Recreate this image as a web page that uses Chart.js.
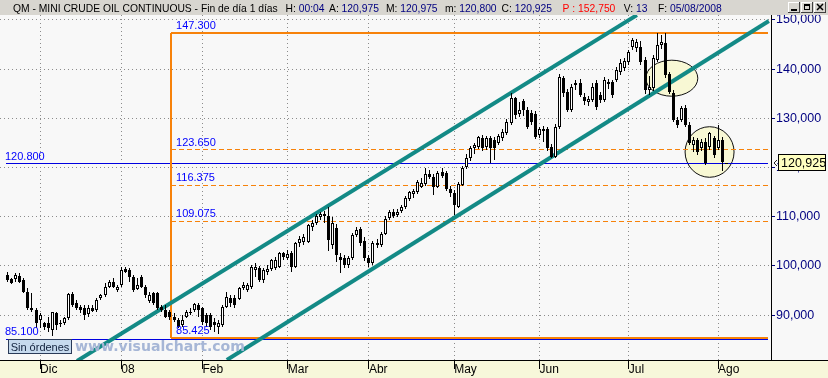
<!DOCTYPE html>
<html><head><meta charset="utf-8">
<script src="https://cdn.jsdelivr.net/npm/chart.js@4.4.1/dist/chart.umd.min.js"></script>
<style>html,body{margin:0;padding:0;background:#f8f8f8;overflow:hidden}canvas{display:block}</style>
</head><body>
<canvas id="c" width="828" height="378" style="width:828px;height:378px"></canvas>
<script>
// ---------- DATA ----------
const monthLabels = ['Dic','08','Feb','Mar','Abr','May','Jun','Jul','Ago'];
const monthStarts = [8,28,48,69,89,110,131,153,175];
const yTickValues = [90000,100000,110000,120000,130000,140000,150000];

const opens = [
98170,97360,97360,98030,97150,94780,91460,91060,89030,88420,
88420,86990,90440,88200,88420,89430,94310,92480,91660,91460,
90240,91460,91060,93500,94170,95800,96750,95120,96140,99390,
99190,97830,95330,97830,95800,92880,94450,94450,91740,91060,
90710,89700,89020,88010,89700,90380,91060,92070,91400,90040,
90040,88680,87670,88010,91740,93570,93430,93300,95470,95120,
95800,99190,99530,97150,98840,99330,99500,99860,102580,101630,
102580,99860,104610,104950,104950,107860,108670,110020,110570,110160,
104270,107650,101900,101560,100200,101560,106300,107450,105140,101560,
100670,104270,104270,106500,109800,111000,110300,111200,111900,113600,
114570,114980,116110,116600,118640,118150,116110,119040,118840,115650,
114770,112050,116460,120180,121890,123920,124250,126080,124200,126080,
125600,124940,125950,126970,129000,134090,130890,133600,131710,131160,
130890,126630,127780,127780,124250,122220,128310,138150,135430,131710,
136790,137130,134410,133300,133740,137250,134760,133740,137400,137460,
137800,139490,140200,141500,144570,144250,144570,141870,135770,136100,
141870,144920,145260,138960,135100,129670,129670,132180,128660,124570,
125610,123920,125270,124250,125950,124000,125610,120975];
const highs = [
98840,97620,98500,98500,97500,95470,94450,91400,90400,88680,
89700,90710,90710,89020,89700,94450,94780,93090,92070,92070,
92070,92070,93430,94310,96480,97150,97500,96140,99860,99860,
99530,98170,97500,98170,96140,94780,94780,94780,92070,92070,
91060,90380,89360,90040,91060,91400,92410,92410,91740,90380,
90380,89360,89020,92070,94780,94110,94110,95800,96810,96480,
100300,100540,100000,99530,100200,101500,101900,102920,102920,103240,
103000,104950,106000,106500,108600,109300,110500,111000,111200,111930,
109900,108500,102600,102200,102000,106700,108000,108000,105800,102200,
105100,105400,107000,110100,111300,111600,111500,112400,114200,115300,
115600,117500,117800,119900,119500,118700,119300,120000,119400,116300,
115500,117000,120300,122700,124300,124900,126500,126600,126400,126500,
126300,126900,127800,129800,135100,134410,133400,134000,132300,131800,
131500,128300,128400,128200,124800,128800,139000,138700,136000,137000,
137800,138000,135200,134600,137200,137900,135400,138400,138100,137900,
140400,142000,142300,144000,146400,146200,145800,142500,138700,142800,
147300,147000,147300,139500,135800,130200,132600,132800,129200,126200,
126100,125900,126000,127300,126500,128700,126200,120975];
const lows = [
96810,96280,96810,96480,94450,91060,90720,87340,87340,86990,
86640,85770,86990,87600,88010,89020,91740,91060,90380,89020,
89700,90580,90710,93090,93770,95470,95470,94780,95800,98500,
96810,94780,95120,95470,93430,92410,92070,91060,90710,89360,
89020,88680,87340,87670,89360,90040,90710,89700,88010,87670,
86990,86640,86120,87670,91400,91740,91400,93090,95120,94780,
95400,97830,96810,96480,98170,99000,99190,99530,101220,101220,
98840,99530,103900,104270,104600,107200,108300,109400,108700,102970,
103500,100870,98500,99500,99530,101220,105900,104000,101000,99860,
100300,103600,103900,106200,109300,109700,109900,110800,111600,113200,
113900,114600,115800,116300,117600,114430,115800,117800,115300,114000,
110300,111700,116200,119800,121400,122700,123800,123300,123500,120870,
121500,124500,125500,126600,128700,129800,130200,130500,127800,128600,
125900,126000,125300,123400,121890,121900,127900,134400,131200,131300,
135800,134400,132800,132600,133300,131800,133200,133400,135900,134100,
137400,138900,139600,140900,143900,143500,140800,135000,134800,135600,
141400,144200,138200,134900,129200,128000,129300,128200,124500,123200,
122600,123300,120530,123600,122000,123500,119400,120800];
const closes = [
97150,96480,98170,96810,94780,91400,91060,88420,90040,87600,
87400,90650,88010,88400,89430,94310,92070,91460,91060,90040,
91460,90850,93090,94040,95790,96750,95730,95730,99190,98780,
97760,95120,96140,95800,94110,94110,92410,91400,91060,89700,
89700,89020,87670,89020,90710,90710,92210,91060,88680,88350,
87670,88010,88350,91740,93770,92410,92070,95470,96140,96140,
99700,99800,97150,99190,99390,101220,101220,102580,101900,102440,
99860,104610,105420,105960,108330,108800,110160,110570,110200,105280,
108670,102230,101220,100200,101560,106300,107310,104610,101560,100670,
104740,104740,106500,109600,110900,110200,110900,112000,113800,115000,
115240,117010,116800,118640,118150,116110,118840,118350,115650,114770,
112390,116600,119980,122010,123920,124590,126280,123920,126100,123920,
124000,126420,127300,129330,134090,130690,131710,131710,128310,129330,
126280,127780,127500,123920,122220,128310,138350,135100,131710,136440,
137130,134760,133600,133900,136440,132380,133740,137800,137000,134760,
139840,141200,141600,143550,145930,145590,141520,135770,136440,142220,
144920,145590,138820,135430,129670,128660,132050,128660,124940,125610,
123230,125270,120870,126970,122560,125610,121200,120925];

// drawn objects (data units: candle index, price)
const chanUpperX = [17.1, 155.0];
const chanUpperY = [80700, 151000];
const chanLowerX = [54.0, 187.5];
const chanLowerY = [80900, 149800];
const fibX = [40.25, 187.2];
const fibSolidLevels = [147300, 85425];
const fibDashLevels = [123650, 116375, 109075];
const fibLabelValues = [147300, 123650, 116375, 109075, 85425];
const fibLabelTexts = ['147.300','123.650','116.375','109.075','85.425'];
const blueLevels = [120800, 85100];
const blueLabelTexts = ['120.800','85.100'];
const blueStartX = -0.4;
const ellCX = [163.6, 172.9];
const ellCY = [138170, 123170];
const ellRX = [6.4, 6.03];
const ellRY = [3660, 5140];
const lastPrice = 120925;
const lastPriceText = '120,925';

// ---------- STYLE ----------
const FONT = '"Liberation Sans", Arial, Helvetica, sans-serif';
const NAVY = '#000080';
const TEAL = '#138a86';
const ORANGE = '#f7820a';
const BLUE = '#0000e0';
const LBLUE = '#0000ff';

const idx = opens.map((_, i) => i);
const bodyColors = idx.map(i => closes[i] >= opens[i] ? '#ffffff' : '#000000');
const seg = (x1, y1, x2, y2) => [{x:x1, y:y1}, {x:x2, y:y2}];
const lineDs = (data, color, width, dash, order, snap) => ({
  type:'line', data, borderColor:color, borderWidth:width, borderDash:dash || [],
  pointRadius:0, pointHoverRadius:0, fill:false, tension:0, clip:0, order:order, snap:snap || 0
});

const datasets = [
  {type:'bar', data: idx.map(i => ({x:i, y:[opens[i], closes[i]]})), backgroundColor: bodyColors,
   borderColor:'#000', borderWidth:1, borderSkipped:false, barThickness:3, grouped:false, inflateAmount:0, order:1, snap:'bar'},
  {type:'bar', data: idx.map(i => ({x:i, y:[lows[i], highs[i]]})), backgroundColor:'#000',
   borderWidth:0, barThickness:1, grouped:false, inflateAmount:0, order:2, snap:'bar'},
  lineDs(seg(chanUpperX[0], chanUpperY[0], chanUpperX[1], chanUpperY[1]), TEAL, 4, null, 3),
  lineDs(seg(chanLowerX[0], chanLowerY[0], chanLowerX[1], chanLowerY[1]), TEAL, 4, null, 3),
  lineDs(seg(fibX[0], fibSolidLevels[1], fibX[0], fibSolidLevels[0]), ORANGE, 2, null, 4, 2),
];
fibSolidLevels.forEach(v => datasets.push(lineDs(seg(fibX[0], v, fibX[1], v), ORANGE, 2, null, 4, 2)));
fibDashLevels.forEach(v => datasets.push(lineDs(seg(fibX[0], v, fibX[1], v), ORANGE, 1, [5,3], 4, 1)));
blueLevels.forEach(v => datasets.push(lineDs(seg(blueStartX, v, fibX[1], v), BLUE, 1, null, 5, 1)));

function fitFont(c, text, weight, family, baseSize, targetW) {
  c.font = weight + ' ' + baseSize + 'px ' + family;
  return baseSize * targetW / c.measureText(text).width;
}

const deco = {
  id:'deco',
  afterDatasetsUpdate(chart) {
    // pixel-snap the drawn marks (positions still come from the scales)
    chart.data.datasets.forEach((ds, i) => {
      if (!ds.snap) return;
      chart.getDatasetMeta(i).data.forEach(el => {
        if (ds.snap === 'bar') {
          el.x = Math.floor(el.x) + 0.5;
          el.y = Math.round(el.y); el.base = Math.round(el.base);
          if (Math.abs(el.base - el.y) < 1) el.base = el.y + 1;
        } else if (ds.snap === 1) { el.y = Math.floor(el.y) + 0.5; el.x = Math.round(el.x); }
        else { el.y = Math.round(el.y); el.x = Math.round(el.x); }
      });
    });
  },
  beforeDraw(chart) {
    const c = chart.ctx, a = chart.chartArea;
    c.save();
    c.fillStyle = '#f8f8f8'; c.fillRect(0, 0, chart.width, chart.height);
    c.fillStyle = '#f7f7da'; c.fillRect(0, a.bottom, chart.width, chart.height - a.bottom);
    c.restore();
  },
  beforeDatasetsDraw(chart) {
    const c = chart.ctx, a = chart.chartArea, xs = chart.scales.x, ys = chart.scales.y;
    c.save();
    c.beginPath(); c.rect(a.left, a.top, a.right - a.left, a.bottom - a.top); c.clip();
    for (let k = 0; k < ellCX.length; k++) {
      const cx = xs.getPixelForValue(ellCX[k]), cy = ys.getPixelForValue(ellCY[k]);
      const rx = xs.getPixelForValue(ellCX[k] + ellRX[k]) - cx;
      const ry = cy - ys.getPixelForValue(ellCY[k] + ellRY[k]);
      c.beginPath(); c.ellipse(cx, cy, rx, ry, 0, 0, Math.PI * 2);
      c.fillStyle = '#f8f8d4'; c.fill();
      c.lineWidth = 1; c.strokeStyle = '#101010'; c.stroke();
    }
    c.restore();
  },
  afterDatasetsDraw(chart) {
    const c = chart.ctx, xs = chart.scales.x, ys = chart.scales.y;
    c.save();
    c.font = '11px ' + FONT; c.fillStyle = LBLUE; c.textBaseline = 'alphabetic'; c.textAlign = 'left';
    const fx = xs.getPixelForValue(fibX[0]) + 5;
    fibLabelValues.forEach((v, k) => c.fillText(fibLabelTexts[k], fx, Math.round(ys.getPixelForValue(v)) - 4));
    const bx = xs.getPixelForValue(blueStartX) - 1;
    blueLevels.forEach((v, k) => c.fillText(blueLabelTexts[k], bx, Math.round(ys.getPixelForValue(v)) - 4));
    // watermark
    const wm = 'www.visualchart.com';
    const ws = fitFont(c, wm, 'bold', '"DejaVu Sans", Verdana, sans-serif', 14, 170);
    c.font = 'bold ' + ws.toFixed(2) + 'px "DejaVu Sans", Verdana, sans-serif';
    c.fillStyle = '#a6b6d6'; c.fillText(wm, 75, 351);
    // Sin órdenes box
    c.fillStyle = '#c6daee'; c.fillRect(8.5, 339.5, 63, 14);
    c.strokeStyle = '#2a3a58'; c.lineWidth = 1; c.strokeRect(8.5, 339.5, 63, 14);
    c.font = '11px ' + FONT; c.fillStyle = '#10203c'; c.textAlign = 'center';
    c.fillText('Sin órdenes', 40, 350.5);
    c.restore();
  },
  afterDraw(chart) {
    const c = chart.ctx, a = chart.chartArea, ys = chart.scales.y;
    c.save();
    c.fillStyle = '#000'; c.fillRect(0, a.bottom, chart.width, 1);
    // last price box
    const py = Math.round(ys.getPixelForValue(lastPrice));
    c.fillStyle = '#ffffc0'; c.fillRect(778.5, py - 8.5, 47, 16);
    c.strokeStyle = '#000'; c.lineWidth = 1; c.strokeRect(778.5, py - 8.5, 47, 16);
    c.font = '12.5px ' + FONT; c.fillStyle = '#000'; c.textAlign = 'left'; c.textBaseline = 'middle';
    c.fillText(lastPriceText, 781, py + 0.5);
    c.beginPath(); c.moveTo(777, py - 3); c.lineTo(774, py); c.lineTo(777, py + 3); c.strokeStyle = '#222'; c.stroke();
    // title bar
    c.fillStyle = '#d8d6d0'; c.fillRect(0, 0, chart.width, a.top);
    c.textBaseline = 'alphabetic'; c.textAlign = 'left';
    const head = 'QM - MINI CRUDE OIL CONTINUOUS - Fin de día 1 días';
    const fs = fitFont(c, head, '', FONT, 11, 265);
    c.font = fs.toFixed(2) + 'px ' + FONT;
    c.fillStyle = '#000'; c.fillText(head, 13, 12);
    const parts = [[285.6,'H: ','00:04'],[329,'A: ','120,975'],[386,'M: ','120,975'],[445,'m: ','120,800'],
                   [501.6,'C: ','120,925'],[562.6,'',''],[623.7,'V: ','13'],[658,'F: ','05/08/2008']];
    parts.forEach(p => {
      if (p[1] === '') { c.fillStyle = '#ff0000'; c.fillText('P : 152,750', p[0], 12); return; }
      c.fillStyle = '#000'; c.fillText(p[1], p[0], 12);
      c.fillStyle = NAVY; c.fillText(p[2], p[0] + c.measureText(p[1]).width, 12);
    });
    [788, 801, 814].forEach((x, k) => {
      c.fillStyle = '#d8d6d0'; c.fillRect(x, 2, 12, 11);
      c.fillStyle = '#ffffff'; c.fillRect(x, 2, 12, 1); c.fillRect(x, 2, 1, 11);
      c.fillStyle = '#404040'; c.fillRect(x, 12, 12, 1); c.fillRect(x + 11, 2, 1, 11);
      c.strokeStyle = '#000'; c.fillStyle = '#000'; c.lineWidth = 1;
      if (k === 0) c.fillRect(x + 3, 9, 6, 2);
      if (k === 1) { c.strokeRect(x + 3.5, 4.5, 5, 5); c.fillRect(x + 3, 4, 6, 2); }
      if (k === 2) { c.lineWidth = 1.5; c.beginPath(); c.moveTo(x + 3, 4); c.lineTo(x + 9, 10); c.moveTo(x + 9, 4); c.lineTo(x + 3, 10); c.stroke(); }
    });
    c.restore();
  }
};

new Chart(document.getElementById('c').getContext('2d'), {
  type:'bar',
  data:{datasets},
  options:{
    responsive:false, animation:false, devicePixelRatio:1, events:[],
    layout:{padding:{top:15, left:0, right:0, bottom:0}},
    plugins:{legend:{display:false}, tooltip:{enabled:false}},
    scales:{
      x:{
        type:'linear', min:-1.872, max:188.03, offset:false,
        grid:{offset:false, color:'#8c8c8c', lineWidth:1, drawTicks:true, tickLength:9, tickColor:'#000', tickBorderDash:[]},
        border:{display:true, color:'#000', width:1, dash:[1,3]},
        ticks:{autoSkip:false, maxRotation:0, minRotation:0, align:'start', padding:-7, color:'#000',
               font:{family:FONT, size:12},
               callback:(v) => { const k = monthStarts.indexOf(v); return k >= 0 ? monthLabels[k] : ''; }},
        afterBuildTicks:(s) => { s.ticks = monthStarts.map(v => ({value:v})); },
        afterFit:(s) => { s.height = 18; }
      },
      y:{
        type:'linear', position:'right', min:80894, max:151016, beginAtZero:false,
        grid:{color:'#8c8c8c', lineWidth:1, tickLength:4, tickColor:NAVY, tickBorderDash:[]},
        border:{display:true, color:'#000', width:1, dash:[1,3]},
        ticks:{autoSkip:false, color:NAVY, padding:1, font:{family:FONT, size:12.5},
               callback:(v) => Number(v).toLocaleString('en-US')},
        afterBuildTicks:(s) => { s.ticks = yTickValues.map(v => ({value:v})); },
        afterFit:(s) => { s.width = 57; }
      }
    }
  },
  plugins:[deco]
});
</script>
</body></html>
